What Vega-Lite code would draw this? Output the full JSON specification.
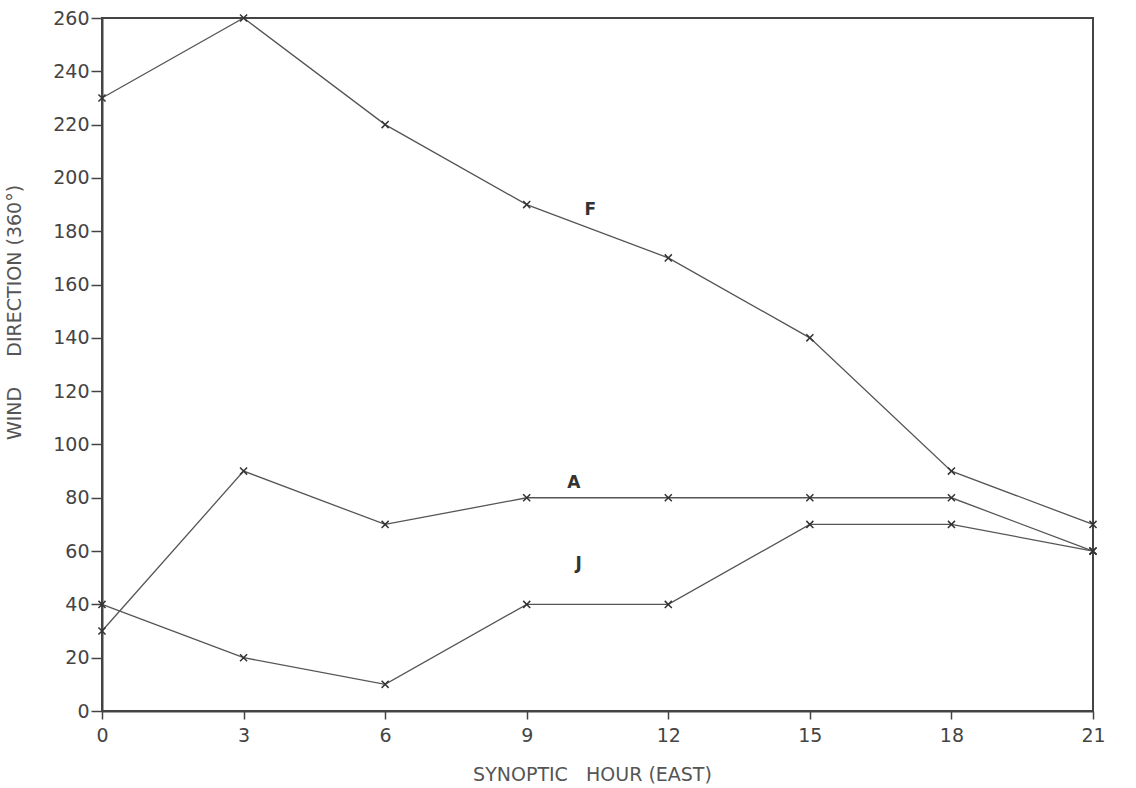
{
  "$schema": "https://vega.github.io/schema/vega-lite/v6.json",
  "width": 991,
  "height": 693,
  "autosize": {"type": "none"},
  "padding": {"left": 102, "top": 18, "right": 43, "bottom": 77},
  "background": "white",
  "config": {
    "view": {"stroke": "#444", "strokeWidth": 2},
    "font": "DejaVu Sans"
  },
  "datasets": {
    "series": [
      {"hour": 0, "dir": 230, "s": "F"}, {"hour": 3, "dir": 260, "s": "F"}, {"hour": 6, "dir": 220, "s": "F"}, {"hour": 9, "dir": 190, "s": "F"},
      {"hour": 12, "dir": 170, "s": "F"}, {"hour": 15, "dir": 140, "s": "F"}, {"hour": 18, "dir": 90, "s": "F"}, {"hour": 21, "dir": 70, "s": "F"},
      {"hour": 0, "dir": 30, "s": "A"}, {"hour": 3, "dir": 90, "s": "A"}, {"hour": 6, "dir": 70, "s": "A"}, {"hour": 9, "dir": 80, "s": "A"},
      {"hour": 12, "dir": 80, "s": "A"}, {"hour": 15, "dir": 80, "s": "A"}, {"hour": 18, "dir": 80, "s": "A"}, {"hour": 21, "dir": 60, "s": "A"},
      {"hour": 0, "dir": 40, "s": "J"}, {"hour": 3, "dir": 20, "s": "J"}, {"hour": 6, "dir": 10, "s": "J"}, {"hour": 9, "dir": 40, "s": "J"},
      {"hour": 12, "dir": 40, "s": "J"}, {"hour": 15, "dir": 70, "s": "J"}, {"hour": 18, "dir": 70, "s": "J"}, {"hour": 21, "dir": 60, "s": "J"}
    ],
    "labels": [
      {"hour": 10.35, "dir": 188, "s": "F"},
      {"hour": 10.0, "dir": 85.5, "s": "A"},
      {"hour": 10.1, "dir": 55, "s": "J"}
    ]
  },
  "layer": [
    {
      "data": {"name": "series"},
      "mark": {"type": "line", "stroke": "#555", "strokeWidth": 1.3},
      "encoding": {
        "x": {
          "field": "hour", "type": "quantitative",
          "scale": {"domain": [0, 21], "nice": false, "zero": false},
          "axis": {
            "values": [0, 3, 6, 9, 12, 15, 18, 21],
            "title": "SYNOPTIC\u00a0\u00a0\u00a0HOUR (EAST)",
            "titleFont": "DejaVu Sans", "titleFontWeight": "normal", "titleFontSize": 19, "titleColor": "#555",
            "titlePadding": 20, "titleX": 490,
            "labelFontSize": 19, "labelColor": "#444", "labelPadding": 7, "labelFlush": false,
            "domainColor": "#444", "domainWidth": 2, "tickColor": "#444", "tickWidth": 1.5, "tickSize": 8,
            "grid": false
          }
        },
        "y": {
          "field": "dir", "type": "quantitative",
          "scale": {"domain": [0, 260], "nice": false},
          "axis": {
            "values": [0, 20, 40, 60, 80, 100, 120, 140, 160, 180, 200, 220, 240, 260],
            "title": "WIND\u00a0\u00a0\u00a0\u00a0\u00a0DIRECTION (360°)",
            "titleFont": "DejaVu Sans", "titleFontWeight": "normal", "titleFontSize": 19, "titleColor": "#555",
            "titleX": -78, "titleY": 294,
            "labelFontSize": 19, "labelColor": "#444", "labelPadding": 2, "labelFlush": false,
            "domainColor": "#444", "domainWidth": 2, "tickColor": "#444", "tickWidth": 1.5, "tickSize": 11,
            "grid": false
          }
        },
        "detail": {"field": "s", "type": "nominal"}
      }
    },
    {
      "data": {"name": "series"},
      "mark": {"type": "point", "shape": "M-1,-1L1,1M-1,1L1,-1", "filled": false, "stroke": "#333", "strokeWidth": 1.5, "size": 50, "opacity": 1},
      "encoding": {
        "x": {"field": "hour", "type": "quantitative"},
        "y": {"field": "dir", "type": "quantitative"}
      }
    },
    {
      "data": {"name": "labels"},
      "mark": {"type": "text", "fontSize": 17, "fontWeight": "bold", "fill": "#333", "font": "DejaVu Sans"},
      "encoding": {
        "x": {"field": "hour", "type": "quantitative"},
        "y": {"field": "dir", "type": "quantitative"},
        "text": {"field": "s", "type": "nominal"}
      }
    }
  ]
}
